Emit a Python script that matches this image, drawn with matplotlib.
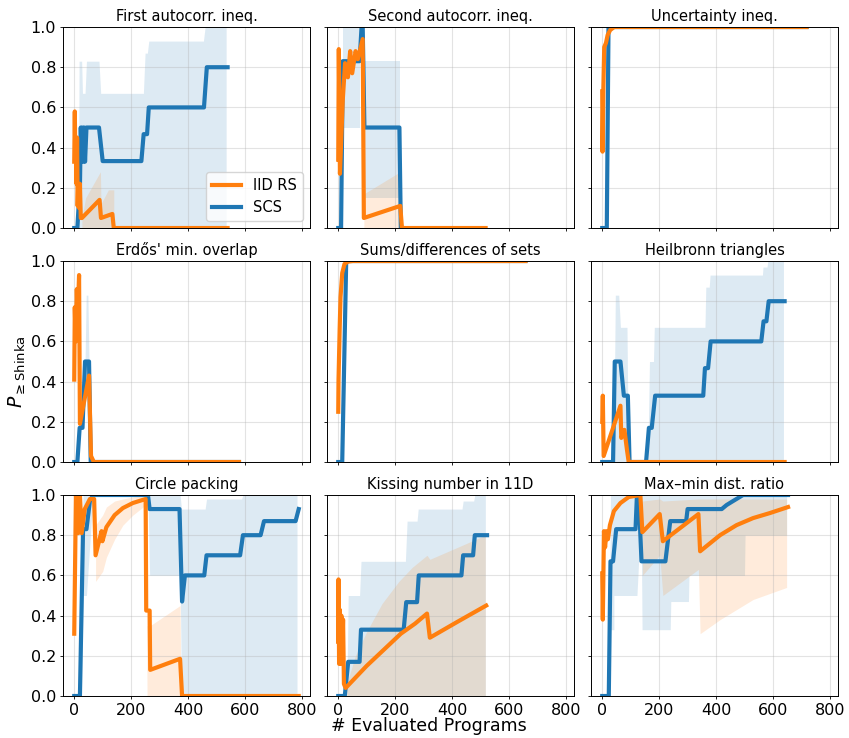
import matplotlib.pyplot as plt

# panel titles (row by row)
titles = ['First autocorr. ineq.', 'Second autocorr. ineq.', 'Uncertainty ineq.',
          "Erdős' min. overlap", 'Sums/differences of sets', 'Heilbronn triangles',
          'Circle packing', 'Kissing number in 11D', 'Max\u2013min dist. ratio']

# --- First autocorr. ineq.
first_scs_x = [0, 11, 15, 19, 23, 26, 29, 32, 35, 38, 43, 87, 100, 236, 244, 256, 262, 456, 466, 539]
first_scs_y = [0, 0, 0.1, 0.1, 0.5, 0.33, 0.5, 0.33, 0.5, 0.33, 0.5, 0.5, 0.333, 0.333, 0.467, 0.467, 0.6, 0.6, 0.8, 0.8]
first_scs_bx = [15, 17, 26, 29, 38, 43, 87, 93, 243, 249, 257, 262, 454, 460, 534]
first_scs_lo = [0] * 15
first_scs_hi = [0.1, 0.83, 0.83, 0.67, 0.67, 0.83, 0.83, 0.67, 0.67, 0.87, 0.87, 0.93, 0.93, 1.0, 1.0]
first_iid_x = [0, 2, 4, 6, 8, 10, 12, 14, 17, 20, 23, 27, 89, 94, 134, 139, 539]
first_iid_y = [0.33, 0.58, 0.33, 0.45, 0.22, 0.45, 0.11, 0.22, 0.1, 0.22, 0.05, 0.05, 0.14, 0.05, 0.07, 0.0, 0.0]
first_iid_bx = [27, 40, 92, 94, 120, 139]
first_iid_lo = [0] * 6
first_iid_hi = [0.05, 0.15, 0.28, 0.12, 0.19, 0.19]

# --- Second autocorr. ineq.
second_scs_x = [0, 10, 16, 75, 82, 86, 92, 215, 220, 225]
second_scs_y = [0, 0, 0.83, 0.83, 1.0, 1.0, 0.5, 0.5, 0, 0]
second_scs_bx = [16, 78, 78, 92, 92, 217]
second_scs_lo = [0.5, 0.5, 0.83, 0.83, 0.15, 0.15]
second_scs_hi = [1.0, 1.0, 1.0, 1.0, 0.83, 0.83]
second_iid_x = [0, 2, 6, 16, 24, 34, 42, 49, 61, 69, 86, 90, 218, 224, 518]
second_iid_y = [0.34, 0.89, 0.27, 0.64, 0.82, 0.75, 0.88, 0.77, 0.88, 0.84, 0.94, 0.05, 0.11, 0.0, 0.0]
second_iid_bx = [90, 218]
second_iid_lo = [0, 0]
second_iid_hi = [0.17, 0.28]

# --- Uncertainty ineq.
unc_scs_x = [0, 16, 22, 718]
unc_scs_y = [0, 0, 1.0, 1.0]
unc_scs_bx = [14, 18, 22]
unc_scs_lo = [0, 0, 1.0]
unc_scs_hi = [0, 0.6, 1.0]
unc_iid_x = [0, 1, 4, 7, 13, 19, 28, 42, 718]
unc_iid_y = [0.68, 0.38, 0.7, 0.9, 0.92, 0.96, 0.985, 1.0, 1.0]

# --- Erdős' min. overlap
erdos_scs_x = [0, 11, 19, 29, 38, 52, 58, 579]
erdos_scs_y = [0, 0, 0.17, 0.17, 0.5, 0.5, 0, 0]
erdos_scs_bx = [38, 42, 48, 52]
erdos_scs_lo = [0.5, 0.33, 0.33, 0.5]
erdos_scs_hi = [0.5, 0.83, 0.83, 0.5]
erdos_iid_x = [0, 2, 5, 9, 12, 17, 20, 52, 59, 69, 579]
erdos_iid_y = [0.41, 0.77, 0.6, 0.86, 0.72, 0.93, 0.19, 0.43, 0.03, 0.0, 0.0]

# --- Sums/differences of sets
sums_scs_x = [0, 14, 28, 658]
sums_scs_y = [0, 0, 1.0, 1.0]
sums_iid_x = [0, 1, 5, 8, 14, 22, 34, 51, 658]
sums_iid_y = [0.25, 0.41, 0.66, 0.82, 0.94, 0.985, 0.997, 1.0, 1.0]

# --- Heilbronn triangles
heil_scs_x = [0, 38, 44, 64, 76, 90, 96, 154, 164, 174, 186, 355, 361, 372, 381, 559, 567, 577, 585, 641]
heil_scs_y = [0, 0, 0.5, 0.5, 0.33, 0.33, 0, 0, 0.17, 0.17, 0.33, 0.33, 0.467, 0.467, 0.6, 0.6, 0.7, 0.7, 0.8, 0.8]
heil_scs_bx = [40, 46, 58, 64, 87, 92, 160, 166, 180, 183, 361, 364, 376, 379, 563, 565, 579, 582, 637]
heil_scs_lo = [0] * 19
heil_scs_hi = [0.0, 0.83, 0.83, 0.67, 0.67, 0.0, 0.0, 0.5, 0.5, 0.67, 0.67, 0.87, 0.87, 0.93, 0.93, 0.97, 0.97, 1.0, 1.0]
heil_iid_x = [0, 2, 5, 64, 67, 78, 87, 93, 641]
heil_iid_y = [0.2, 0.33, 0.03, 0.28, 0.12, 0.16, 0.06, 0.0, 0.0]

# --- Circle packing
circ_scs_x = [0, 20, 31, 43, 55, 66, 259, 265, 370, 379, 389, 457, 465, 583, 593, 655, 667, 778, 789]
circ_scs_y = [0, 0, 0.83, 0.83, 0.97, 1.0, 1.0, 0.93, 0.93, 0.47, 0.6, 0.6, 0.7, 0.7, 0.8, 0.8, 0.87, 0.87, 0.93]
circ_scs_bx = [25, 31, 43, 66, 259, 265, 372, 377, 460, 465, 588, 593, 783]
circ_scs_lo = [0, 0.5, 0.5, 1.0, 1.0, 0.6, 0.6, 0.0, 0.0, 0.0, 0.0, 0.0, 0.0]
circ_scs_hi = [0.5, 1.0, 1.0, 1.0, 1.0, 1.0, 1.0, 0.93, 0.93, 0.98, 0.98, 1.0, 1.0]
circ_iid_x = [0, 6, 14, 20, 26, 37, 55, 70, 75, 96, 99, 113, 142, 171, 206, 251, 253, 265, 267, 372, 379, 789]
circ_iid_y = [0.31, 1.0, 0.81, 1.0, 0.81, 0.93, 0.98, 0.98, 0.70, 0.82, 0.77, 0.84, 0.90, 0.935, 0.96, 0.98,
              0.425, 0.425, 0.13, 0.185, 0.0, 0.0]
circ_iid_bx = [75, 100, 113, 142, 171, 206, 251, 256, 265, 267, 372, 375]
circ_iid_lo = [0.57, 0.62, 0.69, 0.78, 0.85, 0.9, 0.95, 0.0, 0.0, 0.0, 0.0, 0.0]
circ_iid_hi = [0.85, 0.9, 0.94, 0.97, 0.98, 0.99, 1.0, 0.35, 0.35, 0.35, 0.45, 0.0]

# --- Kissing number in 11D
kiss_scs_x = [0, 23, 35, 75, 80, 230, 239, 277, 283, 433, 439, 474, 480, 523]
kiss_scs_y = [0, 0, 0.17, 0.17, 0.33, 0.33, 0.467, 0.467, 0.6, 0.6, 0.7, 0.7, 0.8, 0.8]
kiss_scs_bx = [30, 35, 75, 80, 236, 242, 277, 281, 435, 439, 476, 480, 517]
kiss_scs_lo = [0] * 13
kiss_scs_hi = [0.0, 0.5, 0.5, 0.67, 0.67, 0.87, 0.87, 0.93, 0.93, 0.97, 0.97, 1.0, 1.0]
kiss_iid_x = [0, 1, 3, 5, 8, 11, 14, 17, 20, 26, 100, 160, 220, 270, 312, 322, 420, 520]
kiss_iid_y = [0.27, 0.58, 0.16, 0.43, 0.16, 0.4, 0.2, 0.38, 0.06, 0.04, 0.15, 0.23, 0.31, 0.36, 0.41, 0.29, 0.37, 0.45]
kiss_iid_bx = [26, 60, 100, 154, 213, 260, 312, 322, 420, 517]
kiss_iid_lo = [0] * 10
kiss_iid_hi = [0.04, 0.2, 0.32, 0.46, 0.57, 0.64, 0.7, 0.68, 0.74, 0.8]

# --- Max-min dist. ratio
maxmin_scs_x = [0, 23, 29, 38, 49, 117, 122, 128, 138, 222, 239, 295, 300, 420, 437, 460, 495, 653]
maxmin_scs_y = [0, 0, 0.67, 0.67, 0.83, 0.83, 1.0, 1.0, 0.67, 0.67, 0.87, 0.87, 0.93, 0.93, 0.95, 0.97, 1.0, 1.0]
maxmin_scs_bx = [23, 29, 41, 41, 122, 128, 138, 140, 239, 241, 303, 305, 500, 502, 648]
maxmin_scs_lo = [0, 0.33, 0.33, 0.5, 0.5, 0.67, 0.67, 0.33, 0.33, 0.47, 0.47, 0.6, 0.6, 0.8, 0.8]
maxmin_scs_hi = [0] + [1.0] * 14
maxmin_iid_x = [0, 2, 6, 10, 15, 20, 27, 41, 64, 93, 134, 141, 202, 213, 338, 344, 414, 472, 530, 589, 653]
maxmin_iid_y = [0.61, 0.38, 0.82, 0.74, 0.82, 0.78, 0.85, 0.92, 0.96, 0.99, 1.0, 0.815, 0.905, 0.77, 0.905,
                0.72, 0.8, 0.85, 0.885, 0.91, 0.94]
maxmin_iid_bx = [141, 202, 213, 338, 344, 414, 472, 530, 589, 648]
maxmin_iid_lo = [0.6, 0.7, 0.5, 0.63, 0.31, 0.38, 0.43, 0.48, 0.51, 0.54]
maxmin_iid_hi = [0.97, 0.98, 0.97, 0.98, 0.98, 0.98, 0.98, 0.98, 0.98, 0.98]

scs_lines = [(first_scs_x, first_scs_y), (second_scs_x, second_scs_y), (unc_scs_x, unc_scs_y),
             (erdos_scs_x, erdos_scs_y), (sums_scs_x, sums_scs_y), (heil_scs_x, heil_scs_y),
             (circ_scs_x, circ_scs_y), (kiss_scs_x, kiss_scs_y), (maxmin_scs_x, maxmin_scs_y)]
iid_lines = [(first_iid_x, first_iid_y), (second_iid_x, second_iid_y), (unc_iid_x, unc_iid_y),
             (erdos_iid_x, erdos_iid_y), (sums_iid_x, sums_iid_y), (heil_iid_x, heil_iid_y),
             (circ_iid_x, circ_iid_y), (kiss_iid_x, kiss_iid_y), (maxmin_iid_x, maxmin_iid_y)]
scs_bands = {0: (first_scs_bx, first_scs_lo, first_scs_hi), 1: (second_scs_bx, second_scs_lo, second_scs_hi),
             2: (unc_scs_bx, unc_scs_lo, unc_scs_hi), 3: (erdos_scs_bx, erdos_scs_lo, erdos_scs_hi),
             5: (heil_scs_bx, heil_scs_lo, heil_scs_hi), 6: (circ_scs_bx, circ_scs_lo, circ_scs_hi),
             7: (kiss_scs_bx, kiss_scs_lo, kiss_scs_hi), 8: (maxmin_scs_bx, maxmin_scs_lo, maxmin_scs_hi)}
iid_bands = {0: (first_iid_bx, first_iid_lo, first_iid_hi), 1: (second_iid_bx, second_iid_lo, second_iid_hi),
             6: (circ_iid_bx, circ_iid_lo, circ_iid_hi), 7: (kiss_iid_bx, kiss_iid_lo, kiss_iid_hi),
             8: (maxmin_iid_bx, maxmin_iid_lo, maxmin_iid_hi)}

blue = '#1f77b4'
orange = '#ff7f0e'

fig, axes = plt.subplots(3, 3, figsize=(8.49, 7.38), dpi=100, sharex=True, sharey=True)
fig.subplots_adjust(left=0.0742, right=0.987, bottom=0.0569, top=0.9634, wspace=0.069, hspace=0.164)

for i, ax in enumerate(axes.flat):
    if i in scs_bands:
        bx, lo, hi = scs_bands[i]
        ax.fill_between(bx, lo, hi, color=blue, alpha=0.15, linewidth=0)
    if i in iid_bands:
        bx, lo, hi = iid_bands[i]
        ax.fill_between(bx, lo, hi, color=orange, alpha=0.15, linewidth=0)
    l_scs, = ax.plot(*scs_lines[i], color=blue, linewidth=3, label='SCS')
    l_iid, = ax.plot(*iid_lines[i], color=orange, linewidth=3, label='IID RS')
    ax.set_title(titles[i], fontsize=10.5, pad=4)
    ax.grid(True, color='#b0b0b0', alpha=0.35, linewidth=0.8)
    ax.tick_params(labelsize=11.5, length=2.5, width=0.6, pad=2.5)
    for sp in ax.spines.values():
        sp.set_linewidth(0.7)
    if i == 0:
        ax.legend(handles=[l_iid, l_scs], loc='lower right', fontsize=10.5)

axes[0, 0].set_ylim(0, 1.0)
axes[0, 0].set_yticks([0, 0.2, 0.4, 0.6, 0.8, 1.0])
axes[0, 0].set_xlim(-39.5, 828.5)
axes[0, 0].set_xticks([0, 200, 400, 600, 800])

axes[1, 0].set_ylabel(r'$P_{\geq \mathrm{Shinka}}$', fontsize=13.5)
axes[1, 0].yaxis.set_label_coords(-0.142, 0.45)
fig.text(0.505, 0.004, '# Evaluated Programs', ha='center', va='bottom', fontsize=12.5)

plt.savefig('out.png', dpi=100)
